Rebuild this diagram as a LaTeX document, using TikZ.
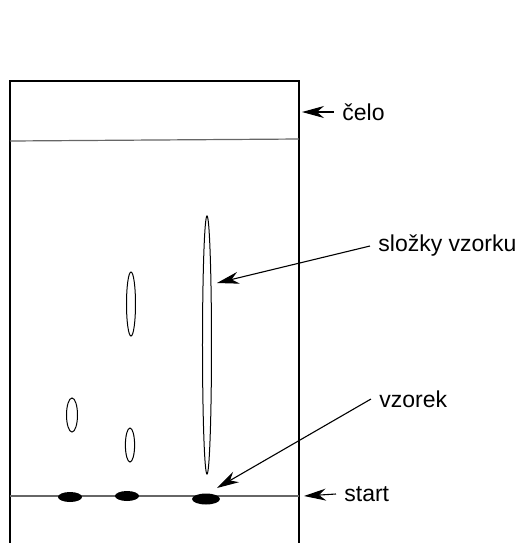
\documentclass[tikz,border=0pt]{standalone}
\usepackage{fontspec}
\setmainfont{Liberation Sans}
\usetikzlibrary{shapes.geometric,arrows.meta,positioning}

\begin{document}
\begin{tikzpicture}[
    x=0.5pt, y=-0.5pt,
    spot/.style={ellipse, draw, inner sep=0pt, line width=0.5pt},
    blot/.style={ellipse, fill=black, inner sep=0pt},
    lbl/.style={anchor=west, inner xsep=4pt, inner ysep=0pt, font=\fontsize{11.5}{13}\selectfont},
    pointer/.style={-{Stealth[length=11pt,width=6pt,inset=3.5pt]}, line width=0.55pt},
    level/.style={draw=black!60, line width=0.6pt}
]
    \useasboundingbox (0,0) rectangle (522,543);

    % plate
    \draw[line width=0.55pt] (10,543) -- (10,81) -- (299,81) -- (299,543);
    \draw[level] (10,141) -- (299,139);
    \draw[level] (10,496) -- (299,496);

    % spots
    \node[spot, minimum width=5.5pt, minimum height=17pt] (a1) at (72,415) {};
    \node[spot, minimum width=4.6pt, minimum height=17pt] (a2) at (130,445) {};
    \node[spot, minimum width=4.5pt, minimum height=32pt] (b1) at (131,304) {};
    \node[spot, minimum width=4.5pt, minimum height=129pt] (c1) at (207,345) {};
    \node[blot, minimum width=12pt, minimum height=5pt] (s1) at (70,497) {};
    \node[blot, minimum width=12pt, minimum height=5pt] (s2) at (127,496) {};
    \node[blot, minimum width=14pt, minimum height=5.5pt] (s3) at (206,499) {};

    % labels
    \node[lbl] (celo) at (334,112) {čelo};
    \node[lbl] (slozky) at (370,246) {složky vzorku};
    \node[lbl] (vzorek) at (371,399) {vzorek};
    \node[lbl] (start) at (336,494) {start};

    \coordinate (celotip) at (302,112);
    \coordinate (slozkytip) at (217,283);
    \coordinate (vzorektip) at (217,488);
    \coordinate (starttip) at (304,496);

    \draw[pointer] (celo.west) -- (celotip);
    \draw[pointer] (slozky.west) -- (slozkytip);
    \draw[pointer] (vzorek.west) -- (vzorektip);
    \draw[pointer] (start.west) -- (starttip);
\end{tikzpicture}
\end{document}
